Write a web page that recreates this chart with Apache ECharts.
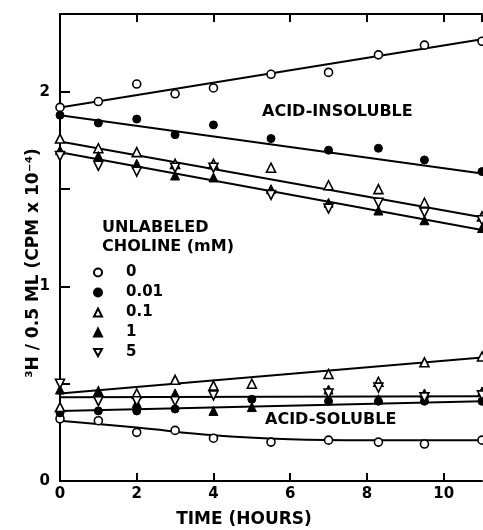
<!DOCTYPE html>
<html>
<head>
<meta charset="utf-8">
<script src="https://cdn.jsdelivr.net/npm/echarts@6/dist/echarts.min.js"></script>
<style>
  html, body { margin: 0; padding: 0; background: #fff; }
  #chart { width: 483px; height: 530px; }
</style>
</head>
<body>
<div id="chart"></div>
<script>
// sampling times (hours)
const timesInsol = [0, 1, 2, 3, 4, 5.5, 7, 8.3, 9.5, 11]
const timesSol = [0, 1, 2, 3, 4, 5, 7, 8.3, 9.5, 11]
const timesSolOpen = [0, 1, 2, 3, 4, 5.5, 7, 8.3, 9.5, 11]

// acid-insoluble values (CPM x 10^-4)
const insol0 = [1.92, 1.95, 2.04, 1.99, 2.02, 2.09, 2.10, 2.19, 2.24, 2.26]
const insol001 = [1.88, 1.84, 1.86, 1.78, 1.83, 1.76, 1.70, 1.71, 1.65, 1.59]
const insol01 = [1.76, 1.71, 1.69, 1.63, 1.63, 1.61, 1.52, 1.50, 1.43, 1.36]
const insol1 = [1.70, 1.67, 1.63, 1.57, 1.56, 1.50, 1.43, 1.39, 1.34, 1.30]
const insol5 = [1.67, 1.62, 1.59, 1.61, 1.61, 1.47, 1.40, 1.43, 1.38, 1.34]

// acid-soluble values
const sol0 = [0.32, 0.31, 0.25, 0.26, 0.22, 0.20, 0.21, 0.20, 0.19, 0.21]
const sol001 = [0.35, 0.36, 0.36, 0.37, null, 0.42, 0.41, 0.41, 0.41, 0.41]
const sol01 = [0.38, 0.46, 0.45, 0.52, 0.49, 0.50, 0.55, 0.51, 0.61, 0.64]
const sol1 = [0.47, 0.46, 0.40, 0.45, 0.36, 0.38, 0.47, 0.42, 0.45, 0.46]
const sol5 = [0.50, 0.41, 0.41, 0.41, 0.44, null, 0.45, 0.48, 0.43, 0.44]

// fitted lines as [time, value]
const fitInsol0 = [[0, 1.92], [11, 2.27]]
const fitInsol001 = [[0, 1.88], [11, 1.58]]
const fitInsol01 = [[0, 1.745], [11, 1.355]]
const fitInsol1and5 = [[0, 1.69], [11, 1.29]]
const fitSol0 = [[0, 0.31], [2, 0.275], [4, 0.235], [6, 0.215], [8, 0.21], [11, 0.21]]
const fitSol001 = [[0, 0.36], [11, 0.41]]
const fitSol01 = [[0, 0.45], [11, 0.635]]
const fitSol1and5 = [[0, 0.43], [11, 0.435]]

// legend names (unlabeled choline, mM)
const doses = ['0', '0.01', '0.1', '1', '5']
const xTicks = [0, 2, 4, 6, 8, 10]

const FONT = 'DejaVu Sans'
// upside-down triangle, used for the 5 mM marker in the legend
const DOWN_TRIANGLE = 'path://M0,0 L10,0 L5,9 Z'

// pair times with values, skip missing points
const pairs = (times, vals) =>
  times.map((t, i) => [t, vals[i]]).filter((p) => p[1] !== null)

const openStyle = { color: '#fff', borderColor: '#000', borderWidth: 1.6, opacity: 1 }
const filledStyle = { color: '#000', borderColor: '#000', borderWidth: 1, opacity: 1 }

// marker look for each dose
const markers = {
  '0': { symbol: 'circle', symbolSize: 8, symbolRotate: 0, itemStyle: openStyle },
  '0.01': { symbol: 'circle', symbolSize: 8, symbolRotate: 0, itemStyle: filledStyle },
  '0.1': { symbol: 'triangle', symbolSize: 9, symbolRotate: 0, itemStyle: openStyle },
  '1': { symbol: 'triangle', symbolSize: 9, symbolRotate: 0, itemStyle: filledStyle },
  '5': { symbol: 'triangle', symbolSize: 9, symbolRotate: 180, itemStyle: openStyle }
}

const scatter = (name, times, vals) => ({
  name: name,
  type: 'scatter',
  data: pairs(times, vals),
  z: 5,
  ...markers[name]
})

const fitLine = (data, smooth) => ({
  type: 'line',
  data: data,
  smooth: smooth ? 0.4 : false,
  showSymbol: false,
  silent: true,
  z: 3,
  lineStyle: { color: '#000', width: 2 }
})

const axisBase = {
  type: 'value',
  min: 0,
  max: 11,
  interval: 2,
  splitLine: { show: false },
  axisLine: { show: true, onZero: false, lineStyle: { color: '#000', width: 2 } },
  axisTick: { show: true, inside: true, length: 8, lineStyle: { color: '#000', width: 2 } }
}

const chart = echarts.init(document.getElementById('chart'))

const option = {
  backgroundColor: '#fff',
  animation: false,
  grid: { left: 60, top: 14, right: 1, bottom: 49 },
  xAxis: [
    {
      ...axisBase,
      position: 'bottom',
      axisLabel: {
        margin: 6,
        fontFamily: FONT,
        fontWeight: 'bold',
        fontSize: 15,
        color: '#000',
        showMaxLabel: false,
        formatter: (v) => (xTicks.includes(v) ? String(v) : '')
      }
    },
    {
      ...axisBase,
      position: 'top',
      axisLabel: { show: false }
    }
  ],
  yAxis: {
    type: 'value',
    min: 0,
    max: 2.4,
    interval: 0.5,
    splitLine: { show: false },
    axisLine: { show: true, lineStyle: { color: '#000', width: 2 } },
    axisTick: { show: true, inside: true, length: 10, lineStyle: { color: '#000', width: 2 } },
    axisLabel: {
      margin: 10,
      fontFamily: FONT,
      fontWeight: 'bold',
      fontSize: 15,
      color: '#000',
      showMaxLabel: false,
      formatter: (v) => (Number.isInteger(v) ? String(v) : '')
    }
  },
  legend: {
    data: doses.map((d) => (d === '5' ? { name: d, icon: DOWN_TRIANGLE } : d)),
    orient: 'vertical',
    left: 93,
    top: 265,
    padding: 0,
    itemWidth: 8,
    itemHeight: 8,
    itemGap: 5,
    selectedMode: false,
    itemStyle: { opacity: 1 },
    textStyle: {
      fontFamily: FONT,
      fontWeight: 'bold',
      fontSize: 15,
      lineHeight: 15,
      color: '#000',
      padding: [0, 0, 0, 19]
    }
  },
  graphic: [
    {
      type: 'text',
      x: 102,
      y: 220,
      style: { text: 'UNLABELED', font: 'bold 16px "DejaVu Sans"', fill: '#000' }
    },
    {
      type: 'text',
      x: 102,
      y: 239,
      style: { text: 'CHOLINE (mM)', font: 'bold 16px "DejaVu Sans"', fill: '#000' }
    },
    {
      type: 'text',
      x: 262,
      y: 104,
      style: { text: 'ACID-INSOLUBLE', font: 'bold 16px "DejaVu Sans"', fill: '#000' }
    },
    {
      type: 'text',
      x: 265,
      y: 412,
      style: { text: 'ACID-SOLUBLE', font: 'bold 16px "DejaVu Sans"', fill: '#000' }
    },
    {
      // x axis title, sits left of the plot centre in the original
      type: 'text',
      x: 244,
      y: 520,
      style: {
        text: 'TIME (HOURS)',
        font: 'bold 17px "DejaVu Sans"',
        fill: '#000',
        align: 'center',
        verticalAlign: 'middle'
      }
    },
    {
      type: 'text',
      x: 34,
      y: 263,
      rotation: Math.PI / 2,
      style: {
        text: '³H / 0.5 ML (CPM x 10⁻⁴)',
        font: 'bold 17px "DejaVu Sans"',
        fill: '#000',
        align: 'center',
        verticalAlign: 'middle'
      }
    }
  ],
  series: [
    fitLine(fitInsol0),
    fitLine(fitInsol001),
    fitLine(fitInsol01),
    fitLine(fitInsol1and5),
    fitLine(fitSol0, true),
    fitLine(fitSol001),
    fitLine(fitSol01),
    fitLine(fitSol1and5),
    scatter('0', timesInsol, insol0),
    scatter('0.01', timesInsol, insol001),
    scatter('0.1', timesInsol, insol01),
    scatter('1', timesInsol, insol1),
    scatter('5', timesInsol, insol5),
    scatter('0', timesSolOpen, sol0),
    scatter('0.01', timesSol, sol001),
    scatter('0.1', timesSol, sol01),
    scatter('1', timesSol, sol1),
    scatter('5', timesSol, sol5)
  ]
}

chart.setOption(option)
</script>
</body>
</html>
